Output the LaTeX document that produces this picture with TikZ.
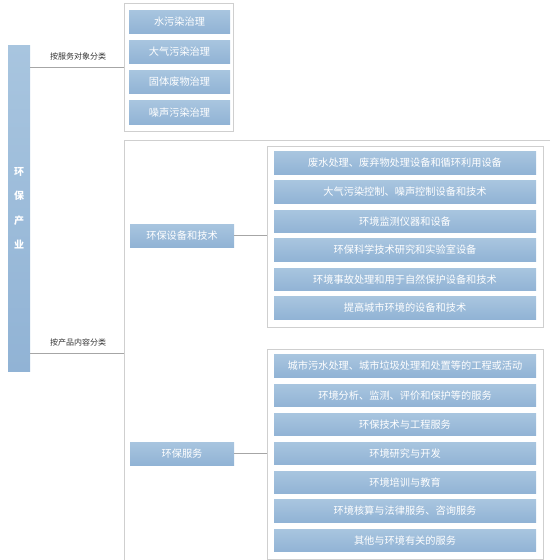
\documentclass[tikz,border=0pt]{standalone}
\usepackage{fontspec}
\newfontfamily\cjk{Noto Sans CJK SC}
\usepackage{tikz}
\usetikzlibrary{positioning}

\definecolor{itemtop}{HTML}{A8C5DF}
\definecolor{itembot}{HTML}{91B3D5}
\definecolor{framegray}{HTML}{CFCFCF}
\definecolor{linegray}{HTML}{A6A6A6}

\begin{document}
\begin{tikzpicture}[x=1pt, y=-1pt,
    item/.style={top color=itemtop, bottom color=itembot, draw=none, text=white,
                 font=\cjk\fontsize{10.2}{12}\selectfont, inner sep=0pt, align=center},
    leaf/.style={item, minimum width=262pt, minimum height=22.5pt},
    frame/.style={draw=framegray, line width=0.8pt, inner sep=0pt},
    link/.style={draw=linegray, line width=0.8pt},
    tag/.style={font=\cjk\fontsize{8}{9}\selectfont, text=black!80}]
    \useasboundingbox (0,0) rectangle (550,560);

    % root bar
    \node[item, minimum width=22pt, minimum height=326pt, font=\cjk\bfseries\fontsize{10}{24.5}\selectfont]
        (root) at (19,208) {环\\保\\产\\业};

    % by service object
    \node[frame, minimum width=109pt, minimum height=128pt] (grpA) at (178.5,67) {};
    \node[item, minimum width=101pt, minimum height=23pt] (water) at (179.5,21.5) {水污染治理};
    \node[item, minimum width=101pt, minimum height=23pt] (air) at (179.5,51.5) {大气污染治理};
    \node[item, minimum width=101pt, minimum height=23pt] (solid) at (179.5,82) {固体废物治理};
    \node[item, minimum width=101pt, minimum height=24pt] (noise) at (179.5,112.5) {噪声污染治理};
    \node[tag] (tagA) at (78,56.5) {按服务对象分类};
    \draw[link] (root.east |- grpA.west) -- (grpA.west);

    % by product content
    \coordinate (grpB) at (124,353);
    \draw[draw=framegray, line width=0.8pt] (550,140) -| (124,560);
    \node[tag] (tagB) at (78,342) {按产品内容分类};
    \draw[link] (root.east |- grpB) -- (grpB);

    \node[item, minimum width=104pt, minimum height=23pt] (equip) at (182,235.5) {环保设备和技术};
    \node[item, minimum width=104pt, minimum height=23pt] (serv) at (182,453.5) {环保服务};

    % equipment and technology
    \node[frame, minimum width=276pt, minimum height=181pt] (subA) at (405,236.5) {};
    \node[leaf] (e1) at (405,163) {废水处理、废弃物处理设备和循环利用设备};
    \node[leaf] (e2) at (405,192) {大气污染控制、噪声控制设备和技术};
    \node[leaf] (e3) at (405,221.5) {环境监测仪器和设备};
    \node[leaf] (e4) at (405,250) {环保科学技术研究和实验室设备};
    \node[leaf] (e5) at (405,279.5) {环境事故处理和用于自然保护设备和技术};
    \node[leaf] (e6) at (405,308) {提高城市环境的设备和技术};
    \draw[link] (equip.east) -- (equip.east -| subA.west);

    % services
    \node[frame, minimum width=276pt, minimum height=210pt] (subB) at (405,454) {};
    \node[leaf] (s1) at (405,366) {城市污水处理、城市垃圾处理和处置等的工程或活动};
    \node[leaf] (s2) at (405,395.5) {环境分析、监测、评价和保护等的服务};
    \node[leaf] (s3) at (405,424.5) {环保技术与工程服务};
    \node[leaf] (s4) at (405,453.5) {环境研究与开发};
    \node[leaf] (s5) at (405,482.5) {环境培训与教育};
    \node[leaf] (s6) at (405,511) {环境核算与法律服务、咨询服务};
    \node[leaf] (s7) at (405,540.5) {其他与环境有关的服务};
    \draw[link] (serv.east) -- (serv.east -| subB.west);
\end{tikzpicture}
\end{document}
